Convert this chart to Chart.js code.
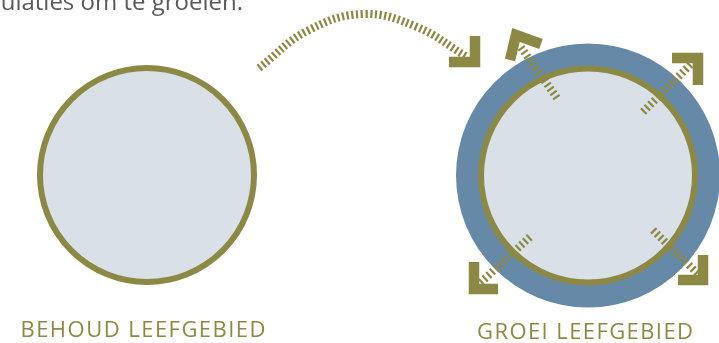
<!DOCTYPE html>
<html lang="nl">
<head>
    <meta charset="UTF-8">
    <title>Behoud en groei leefgebied</title>
    <script src="https://cdn.jsdelivr.net/npm/chart.js"></script>
    <style>
        html, body { margin: 0; padding: 0; background: #fff; }
        #wrap { width: 719px; height: 343px; }
    </style>
</head>
<body>
    <div id="wrap"><canvas id="diagram"></canvas></div>
    <script>
        // diagram data (x/y in the 719 x 343 drawing space)
        const circleCenters = [{ x: 147, y: 175 }, { x: 588, y: 175.5 }];
        const circleRadius = [107, 107];
        const outerRingRadius = 132;

        const bigArrowPath = [
            { x: 259, y: 68 }, { x: 307, y: 31 }, { x: 363, y: 14 }, { x: 417, y: 27 }, { x: 467, y: 57 }
        ];
        const bigArrowHead = [{ x: 475, y: 36 }, { x: 475, y: 62 }, { x: 449, y: 62 }];

        const growthTicks = [
            [{ x: 557, y: 98 }, { x: 520, y: 46 }],
            [{ x: 643, y: 112 }, { x: 692, y: 63 }],
            [{ x: 530, y: 237 }, { x: 478, y: 285 }],
            [{ x: 653, y: 230 }, { x: 699, y: 275 }]
        ];
        const growthHeads = [
            [{ x: 541, y: 44 }, { x: 516, y: 35 }, { x: 510, y: 60 }],
            [{ x: 672, y: 58 }, { x: 698, y: 58 }, { x: 698, y: 85 }],
            [{ x: 474, y: 262 }, { x: 474, y: 289 }, { x: 498, y: 289 }],
            [{ x: 703, y: 255 }, { x: 703, y: 280 }, { x: 678, y: 280 }]
        ];

        const labels = ['BEHOUD LEEFGEBIED', 'GROEI LEEFGEBIED'];
        const labelPos = [{ x: 143, y: 337, w: 245 }, { x: 585, y: 339, w: 216 }];
        const introText = 'populaties om te groeien.';
        const introPos = { x: 243, y: 10 };

        const olive = '#8C8944';
        const blue = '#6689A8';
        const light = '#DAE0E8';

        const datasets = [];

        // arrow heads on top
        growthHeads.concat([bigArrowHead]).forEach(pts => {
            datasets.push({
                type: 'scatter', data: pts, showLine: true, order: 1,
                borderColor: olive, borderWidth: 10.5, pointRadius: 0,
                borderJoinStyle: 'miter', borderCapStyle: 'butt', tension: 0
            });
        });

        // hatched arrow shafts
        growthTicks.forEach(pts => {
            datasets.push({
                type: 'scatter', data: pts, showLine: true, order: 3,
                borderColor: olive, borderWidth: 8, borderDash: [2.2, 2.8], pointRadius: 0,
                borderCapStyle: 'butt'
            });
        });
        datasets.push({
            type: 'scatter', data: bigArrowPath, showLine: true, order: 3,
            borderColor: olive, borderWidth: 8, borderDash: [2.2, 2.5], pointRadius: 0,
            borderCapStyle: 'butt', tension: 0.4
        });

        // circles
        datasets.push({
            type: 'bubble', order: 5, clip: false,
            data: circleCenters.map((c, i) => ({ x: c.x, y: c.y, r: circleRadius[i] })),
            backgroundColor: light, borderColor: olive, borderWidth: 6
        });
        datasets.push({
            type: 'bubble', order: 6, clip: false,
            data: [{ x: circleCenters[1].x, y: circleCenters[1].y, r: outerRingRadius }],
            backgroundColor: blue, borderWidth: 0
        });

        const textPlugin = {
            id: 'texts',
            afterDraw(chart) {
                const ctx = chart.ctx;
                const xs = chart.scales.x, ys = chart.scales.y;
                ctx.save();
                ctx.fillStyle = '#595959';
                ctx.font = '24px "Open Sans"';
                ctx.textAlign = 'right';
                ctx.textBaseline = 'alphabetic';
                ctx.fillText(introText, xs.getPixelForValue(introPos.x), ys.getPixelForValue(introPos.y));

                ctx.fillStyle = olive;
                ctx.font = '22px "Open Sans"';
                ctx.textAlign = 'left';
                labels.forEach((t, i) => {
                    const p = labelPos[i];
                    ctx.letterSpacing = '0px';
                    const w0 = ctx.measureText(t).width;
                    const sp = (p.w - w0) / (t.length - 1);
                    ctx.letterSpacing = sp + 'px';
                    const x = xs.getPixelForValue(p.x) - p.w / 2;
                    ctx.fillText(t, x, ys.getPixelForValue(p.y));
                });
                ctx.restore();
            }
        };

        new Chart(document.getElementById('diagram'), {
            type: 'scatter',
            data: { datasets: datasets },
            options: {
                responsive: true,
                maintainAspectRatio: false,
                animation: false,
                events: [],
                layout: { padding: 0, autoPadding: false },
                plugins: { legend: { display: false }, tooltip: { enabled: false } },
                scales: {
                    x: { type: 'linear', min: 0, max: 719, display: false },
                    y: { type: 'linear', min: 0, max: 343, reverse: true, display: false }
                }
            },
            plugins: [textPlugin]
        });
    </script>
</body>
</html>
